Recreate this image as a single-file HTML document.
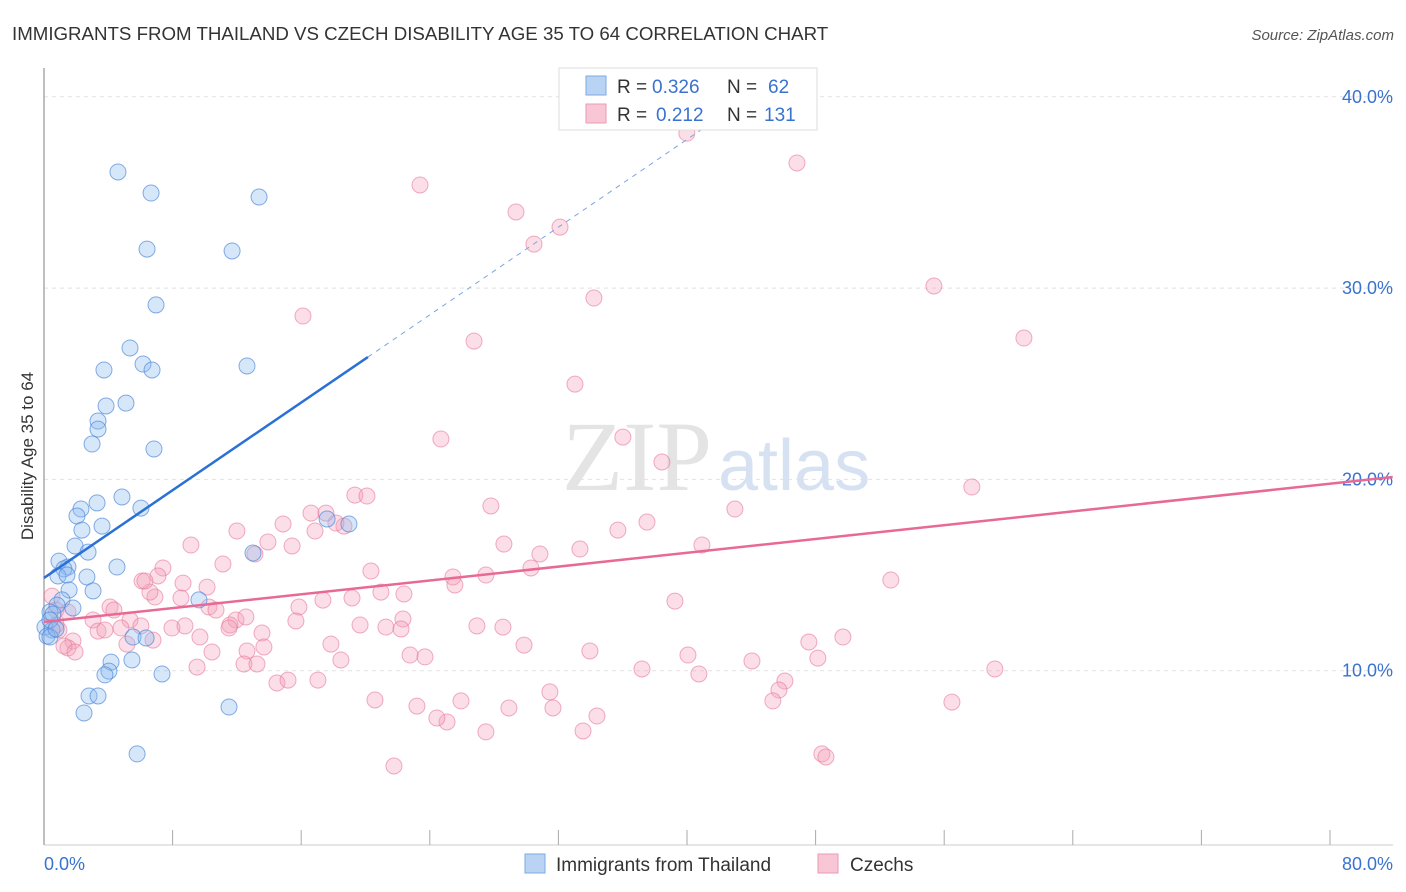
<!DOCTYPE html>
<html><head><meta charset="utf-8"><style>
body{margin:0;background:#fff;font-family:"Liberation Sans",sans-serif;}
svg{display:block}
</style></head><body>
<svg id="chart" width="1406" height="892">
<text x="12" y="40" font-size="18.7" fill="#333">IMMIGRANTS FROM THAILAND VS CZECH DISABILITY AGE 35 TO 64 CORRELATION CHART</text>
<text x="1394" y="40" font-size="15" fill="#555" font-style="italic" text-anchor="end">Source: ZipAtlas.com</text>
<text x="0" y="0" font-size="17" fill="#333" text-anchor="middle" transform="translate(33,456) rotate(-90)">Disability Age 35 to 64</text>
<g id="grid"></g>
<text x="712" y="490" font-size="100" fill="#e4e4e4" text-anchor="end" font-family="Liberation Serif,serif">ZIP</text>
<text x="718" y="490" font-size="72" fill="#d6e2f2">atlas</text>
<g id="pts"></g>
<g id="lines"></g>
<g>
<rect x="559" y="68" width="258" height="62" fill="#fff" stroke="#ddd"/>
<rect x="586" y="76" width="20" height="19" fill="#b8d3f4" stroke="#7fa8e0"/>
<rect x="586" y="104" width="20" height="19" fill="#f8c6d5" stroke="#eb9ab3"/>
<text x="617" y="93" font-size="19" fill="#333">R =</text>
<text x="652" y="93" font-size="19" fill="#3a72d0">0.326</text>
<text x="727" y="93" font-size="19" fill="#333">N =</text>
<text x="768" y="93" font-size="19" fill="#3a72d0">62</text>
<text x="617" y="121" font-size="19" fill="#333">R =</text>
<text x="656" y="121" font-size="19" fill="#3a72d0">0.212</text>
<text x="727" y="121" font-size="19" fill="#333">N =</text>
<text x="764" y="121" font-size="19" fill="#3a72d0">131</text>
</g>
<g>
<rect x="525" y="854" width="20" height="19" fill="#b8d3f4" stroke="#7fa8e0"/>
<text x="556" y="871" font-size="19" fill="#333">Immigrants from Thailand</text>
<rect x="818" y="854" width="20" height="19" fill="#f8c6d5" stroke="#eb9ab3"/>
<text x="850" y="871" font-size="19" fill="#333">Czechs</text>
</g>
<text x="44" y="870" font-size="18" fill="#3a72d0">0.0%</text>
<text x="1393" y="870" font-size="18" fill="#3a72d0" text-anchor="end">80.0%</text>
</svg>
<script>
const yTicks=[10,20,30,40];
const yTickLabels=["10.0%","20.0%","30.0%","40.0%"];
const xTicks=[0,8,16,24,32,40,48,56,64,72,80];
const blueX=[4.60,6.66,13.38,6.41,11.70,6.97,5.35,6.16,3.73,6.72,12.63,5.10,3.86,3.36,3.36,2.99,6.84,4.85,3.30,2.30,2.05,6.03,3.61,2.36,1.93,2.74,0.93,1.49,1.24,4.54,2.67,0.87,1.43,13.00,17.61,18.97,3.05,1.56,1.12,0.81,1.80,0.37,0.56,9.64,0.06,0.50,0.19,0.37,5.54,6.35,4.17,4.04,3.79,5.47,7.34,2.80,3.36,2.49,11.51,5.79,0.37,0.75];
const blueY=[36.07,34.97,34.76,32.04,31.94,29.12,26.87,26.03,25.72,25.72,25.93,23.99,23.84,23.05,22.63,21.85,21.59,19.08,18.77,18.45,18.09,18.50,17.56,17.35,16.52,16.20,15.73,15.42,15.32,15.42,14.90,14.95,15.00,16.15,17.93,17.67,14.17,14.22,13.70,13.43,13.28,13.07,12.96,13.70,12.28,12.13,11.81,11.76,11.76,11.71,10.45,9.98,9.78,10.56,9.83,8.68,8.68,7.79,8.10,5.65,12.65,12.18];
const pinkX=[23.39,29.36,32.10,30.48,46.84,39.99,42.05,34.21,55.36,60.96,16.11,26.75,33.03,24.69,36.01,38.44,57.72,42.98,27.80,37.51,35.70,28.61,30.85,33.34,40.93,30.29,25.44,25.56,52.68,39.25,49.70,47.58,48.14,44.04,40.06,37.20,40.74,59.15,46.09,45.72,45.34,56.48,33.96,29.86,26.93,28.55,34.40,33.53,31.47,31.66,28.92,27.49,25.94,25.07,24.44,23.20,21.77,20.59,23.70,22.77,22.39,22.33,21.27,22.21,19.66,19.16,20.34,20.96,18.47,17.85,19.34,20.09,18.66,18.16,16.61,17.54,17.35,15.86,15.67,14.87,15.43,13.93,12.00,13.12,11.13,10.14,9.14,8.65,8.52,7.40,7.09,6.90,6.59,6.10,6.28,4.11,4.35,5.35,3.05,3.36,3.79,4.79,6.03,7.96,8.77,9.70,10.45,11.94,11.57,12.56,12.63,11.51,13.56,13.68,12.44,13.25,14.49,15.18,17.04,9.52,6.78,5.16,1.80,1.49,1.24,1.93,0.93,0.75,0.50,0.75,1.49,10.26,10.70,48.39,48.64,27.49,16.86];
const pinkY=[35.39,33.98,33.19,32.30,36.54,38.10,38.78,29.48,30.11,27.39,28.54,27.23,24.98,22.11,22.21,20.91,19.60,18.45,18.61,17.77,17.35,16.62,16.10,16.36,16.57,15.37,14.90,14.48,14.74,13.64,11.76,11.50,10.66,10.51,10.82,10.09,9.83,10.09,9.46,8.99,8.42,8.36,11.03,11.34,12.34,12.28,7.63,6.85,8.89,8.05,8.05,6.80,8.42,7.32,7.53,8.15,5.02,8.47,10.72,10.82,14.01,12.70,12.28,12.18,12.39,13.80,15.21,14.11,10.56,11.39,19.18,19.13,17.56,17.72,18.24,18.24,13.69,13.33,12.60,17.67,16.52,16.73,17.30,16.10,15.58,14.37,16.57,14.58,13.80,15.37,14.95,13.85,14.11,14.69,14.69,13.33,13.17,12.65,12.65,12.07,12.13,12.23,12.34,12.23,12.34,11.76,10.98,12.65,12.39,12.81,11.03,12.23,11.97,11.24,10.35,10.35,9.36,9.51,9.51,10.19,11.60,11.39,11.55,11.19,11.29,10.98,12.13,12.39,13.90,13.17,13.07,13.33,13.17,5.65,5.49,15.00,17.30];
const blueFit=[14.85,0.573];
const pinkFit=[12.55,0.0903];
const NS="http://www.w3.org/2000/svg";
const X=v=>44+v*(1286/80);
const Y=v=>862-v*19.13;
function mk(tag,attrs,parent){const e=document.createElementNS(NS,tag);for(const k in attrs)e.setAttribute(k,attrs[k]);parent.appendChild(e);return e;}
const grid=document.getElementById('grid');
yTicks.forEach((t,i)=>{
 const l=mk('line',{x1:44,x2:1393,y1:Y(t),y2:Y(t),stroke:'#e2e2e2','stroke-dasharray':'4,4'},grid);
 
 
 const tx=mk('text',{x:1393,y:Y(t)+6,'font-size':18,fill:'#3a72d0','text-anchor':'end'},grid);
 tx.textContent=yTickLabels[i];
 
 
});
const ax=mk('line',{x1:44,x2:44,y1:68,y2:845,stroke:'#aaa','stroke-width':1.5},grid);


const bx=mk('line',{x1:44,x2:1393,y1:845,y2:845,stroke:'#ccc'},grid);


xTicks.forEach(t=>{
 const l=mk('line',{x1:X(t),x2:X(t),y1:830,y2:845,stroke:'#aaa'},grid);
 
 
});
const pts=document.getElementById('pts');
pinkX.forEach((v,i)=>{
 const c=mk('circle',{cx:X(v),cy:Y(pinkY[i]),r:8,fill:'rgba(244,160,185,0.35)',stroke:'rgba(232,120,155,0.6)','stroke-width':1},pts);
 
 
});
blueX.forEach((v,i)=>{
 const c=mk('circle',{cx:X(v),cy:Y(blueY[i]),r:8,fill:'rgba(140,185,240,0.35)',stroke:'rgba(70,130,215,0.65)','stroke-width':1},pts);
 
 
});
const lines=document.getElementById('lines');
const b1=mk('line',{x1:X(0),y1:Y(blueFit[0]),x2:X(20.15),y2:Y(blueFit[0]+blueFit[1]*20.15),stroke:'#2a70d6','stroke-width':2.5},lines);


const b2=mk('line',{x1:X(20.15),y1:Y(blueFit[0]+blueFit[1]*20.15),x2:X(42.5),y2:Y(blueFit[0]+blueFit[1]*42.5),stroke:'#7aa6e0','stroke-width':1,'stroke-dasharray':'5,5'},lines);


const p1=mk('line',{x1:X(0),y1:Y(pinkFit[0]),x2:X(83.9),y2:Y(pinkFit[0]+pinkFit[1]*83.9),stroke:'#e86994','stroke-width':2.5},lines);


</script>
</body></html>
